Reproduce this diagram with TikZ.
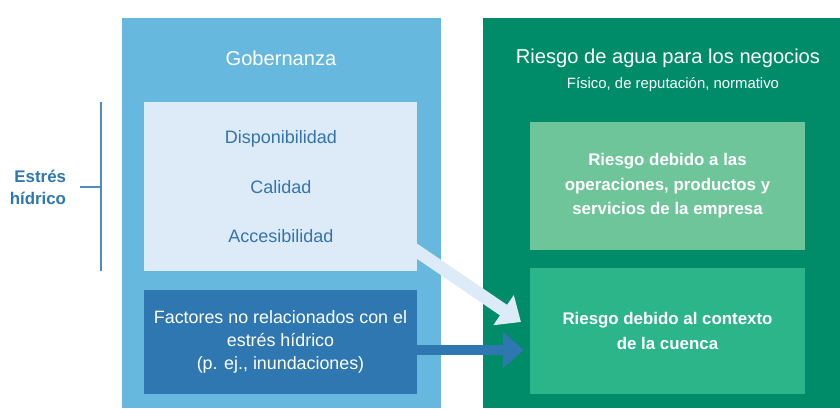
\documentclass[tikz,border=0pt]{standalone}
\usepackage{fontspec}
\setmainfont{Liberation Sans}
\usetikzlibrary{arrows.meta,calc}
\definecolor{govblue}{HTML}{67B8DF}
\definecolor{paleblue}{HTML}{DCEBF7}
\definecolor{deepblue}{HTML}{2E77B0}
\definecolor{textblue}{HTML}{3573AE}
\definecolor{bracketblue}{HTML}{4F8CC4}
\definecolor{riskgreen}{HTML}{008C69}
\definecolor{mintgreen}{HTML}{6FC59A}
\definecolor{midgreen}{HTML}{2DB58A}

\begin{document}
\begin{tikzpicture}[x=0.025cm,y=-0.025cm,panel/.style={inner sep=0pt,outer sep=0pt,align=center},title/.style={text=white,font=\fontsize{14.3}{17}\selectfont},item/.style={text=textblue,font=\fontsize{12.8}{15}\selectfont},boxtext/.style={text=white,align=center,font=\fontsize{12.7}{16.4}\selectfont},bold/.style={text=white,align=center,font=\bfseries\fontsize{12}{17.4}\selectfont},fatarrow/.style={line width=9pt,-{Triangle[length=15pt,width=25pt]}}]
\useasboundingbox (0,0) rectangle (840,408);
% outer panels
\node[panel,fill=govblue,minimum width=7.975cm,minimum height=9.75cm] (gov) at (281.5,213) {};
\node[panel,fill=riskgreen,minimum width=8.925cm,minimum height=9.75cm] (risk) at (661.5,213) {};
\node[title] (govtitle) at (281,58) {Gobernanza};
\node[title] (risktitle) at (668,58) {Riesgo de agua para los negocios};
\node[text=white,font=\fontsize{10.6}{12}\selectfont] (risksub) at (673,85) {Físico, de reputación, normativo};
% inner boxes
\node[panel,fill=paleblue,minimum width=6.825cm,minimum height=4.225cm] (avail) at (280.5,186.5) {};
\node[item] (disp) at (281,139) {Disponibilidad};
\node[item] (cal) at (281,187) {Calidad};
\node[item] (acc) at (281,236) {Accesibilidad};
\node[panel,boxtext,fill=deepblue,minimum width=6.825cm,minimum height=2.6cm] (factors) at (280.5,342) {Factores no relacionados con el\\estrés hídrico\\(p. ej., inundaciones)};
\node[panel,bold,fill=mintgreen,minimum width=6.875cm,minimum height=3.2cm] (ops) at (667.5,186) {Riesgo debido a las\\operaciones, productos y\\servicios de la empresa};
\node[panel,bold,fill=midgreen,minimum width=6.875cm,minimum height=3.15cm] (ctx) at (667.5,331) {Riesgo debido al contexto\\de la cuenca};
% bracket
\coordinate (brtop) at (101,102); \coordinate (brbot) at (101,271); \coordinate (brmid) at (101,187);
\draw[bracketblue,line width=1.2pt] (brtop) -- (brbot); \draw[bracketblue,line width=1.2pt] (brmid) -- ++(-21,0) coordinate (brend);
\node[anchor=east,align=right,text=deepblue,font=\bfseries\fontsize{12}{15.6}\selectfont] (stress) at ($(brend)+(-9,0)$) {Estrés\\hídrico};
% arrows
\draw[fatarrow,paleblue] ($(avail.south east)+(-12,-28)$) -- ($(ctx.west)+(-9,-9)$);
\draw[fatarrow,deepblue,line width=7.5pt] ($(factors.east)+(-10,8)$) -- ($(ctx.west)+(-6,19)$);
\end{tikzpicture}
\end{document}
